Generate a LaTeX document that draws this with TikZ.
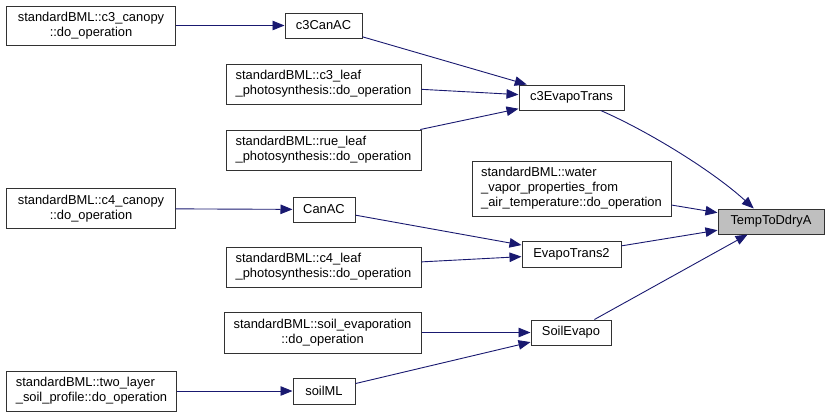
\documentclass[tikz,border=0pt]{standalone}
\usepackage{fontspec}
\setmainfont{Liberation Sans}
\usetikzlibrary{arrows.meta}
\definecolor{edgeblue}{RGB}{25,25,112}
\definecolor{boxline}{RGB}{50,50,50}
\definecolor{hilite}{RGB}{191,191,191}
\begin{document}
\begin{tikzpicture}[x=1bp,y=-1bp,
  box/.style={draw=boxline, line width=1bp, fill=white, inner sep=0pt,
    font=\fontsize{12.9bp}{15bp}\selectfont, text=black},
  lbox/.style={box, align=left},
  cbox/.style={box, align=center},
  call/.style={draw=edgeblue, line width=0.9bp, -{Triangle[length=12bp,width=9.5bp]}}
]
\useasboundingbox (0,0) rectangle (829,417);

\node[cbox, minimum width=168bp, minimum height=39bp] (c3can) at (91,25.5) {standardBML::c3\_canopy\\::do\_operation};
\node[cbox, minimum width=77bp, minimum height=25bp] (c3CanAC) at (323.5,25.5) {c3CanAC};
\node[lbox, minimum width=195bp, minimum height=40bp] (c3leaf) at (323.5,84) {standardBML::c3\_leaf\\\_photosynthesis::do\_operation};
\node[lbox, minimum width=195bp, minimum height=40bp] (rueleaf) at (323.5,150) {standardBML::rue\_leaf\\\_photosynthesis::do\_operation};
\node[cbox, minimum width=105bp, minimum height=25bp] (c3ET) at (571.5,97.5) {c3EvapoTrans};
\node[lbox, minimum width=199bp, minimum height=55bp] (water) at (571.5,188.5) {standardBML::water\\\_vapor\_properties\_from\\\_air\_temperature::do\_operation};
\node[cbox, fill=hilite, minimum width=106bp, minimum height=25bp] (temp) at (771,221.5) {TempToDdryA};
\node[cbox, minimum width=168bp, minimum height=40bp] (c4can) at (91,208.5) {standardBML::c4\_canopy\\::do\_operation};
\node[cbox, minimum width=62bp, minimum height=25bp] (CanAC) at (324,209.5) {CanAC};
\node[lbox, minimum width=195bp, minimum height=40bp] (c4leaf) at (323.5,267) {standardBML::c4\_leaf\\\_photosynthesis::do\_operation};
\node[cbox, minimum width=99bp, minimum height=26bp] (ET2) at (571.5,254) {EvapoTrans2};
\node[cbox, minimum width=197bp, minimum height=41bp] (soilevap) at (322.5,332.5) {standardBML::soil\_evaporation\\::do\_operation};
\node[cbox, minimum width=80bp, minimum height=25bp] (SoilEvapo) at (571,332.5) {SoilEvapo};
\node[lbox, minimum width=169bp, minimum height=40bp] (twolayer) at (91.5,391) {standardBML::two\_layer\\\_soil\_profile::do\_operation};
\node[cbox, minimum width=62bp, minimum height=26bp] (soilML) at (324,391) {soilML};

\draw[call] (c3can) -- (c3CanAC);
\draw[call] (c3CanAC) -- (c3ET);
\draw[call] (c3leaf) -- (c3ET);
\draw[call] (rueleaf) -- (c3ET);
\draw[call] (c3ET.-24) .. controls (650,132) and (714,172) .. (temp.143);
\draw[call] (water) -- (temp);
\draw[call] (ET2) -- (temp);
\draw[call] (SoilEvapo) -- (temp);
\draw[call] (c4can) -- (CanAC);
\draw[call] (CanAC) -- (ET2);
\draw[call] (c4leaf) -- (ET2);
\draw[call] (soilevap) -- (SoilEvapo);
\draw[call] (soilML) -- (SoilEvapo);
\draw[call] (twolayer) -- (soilML);
\end{tikzpicture}
\end{document}
